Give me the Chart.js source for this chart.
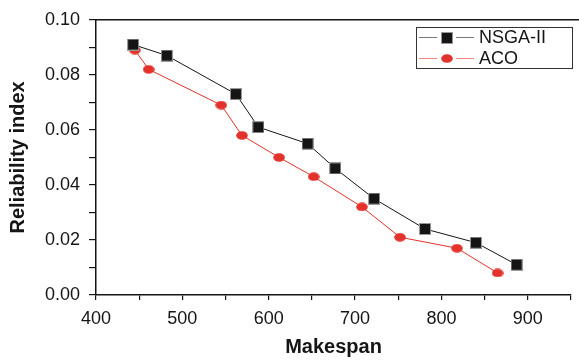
<!DOCTYPE html>
<html>
<head>
<meta charset="utf-8">
<script src="https://cdn.jsdelivr.net/npm/chart.js@4/dist/chart.umd.min.js"></script>
<style>
  html, body { margin: 0; padding: 0; background: #fff; }
  #chart { display: block; }
</style>
</head>
<body>
<canvas id="chart" width="579" height="360"></canvas>
<script>
const seriesNames = ['NSGA-II', 'ACO'];
const nsgaMakespan = [443, 482, 562, 588, 645, 677, 722, 781, 840, 887];
const nsgaReliability = [0.091, 0.087, 0.073, 0.061, 0.055, 0.046, 0.035, 0.024, 0.019, 0.011];
const acoMakespan = [445, 461, 545, 569, 612, 652, 708, 752, 818, 865];
const acoReliability = [0.089, 0.082, 0.069, 0.058, 0.050, 0.043, 0.032, 0.021, 0.017, 0.008];
const xTicks = [400, 500, 600, 700, 800, 900];
const yTicks = ['0.00', '0.02', '0.04', '0.06', '0.08', '0.10'];

const BLACK = '#151515';
const RED = '#e2322b';
const FONT = '"Liberation Sans", Arial, sans-serif';

function toPoints(xs, ys) {
  return xs.map(function(x, i) { return { x: x, y: ys[i] }; });
}

// marker images
function squareMarker() {
  const c = document.createElement('canvas');
  c.width = 12; c.height = 12;
  const g = c.getContext('2d');
  g.fillStyle = '#999';
  g.fillRect(0, 0, 12, 12);
  g.fillStyle = BLACK;
  g.fillRect(1, 1, 10, 10);
  return c;
}

function ellipseMarker() {
  const c = document.createElement('canvas');
  c.width = 12; c.height = 9;
  const g = c.getContext('2d');
  g.fillStyle = RED;
  g.beginPath();
  g.ellipse(6, 4.5, 5.8, 4.3, 0, 0, Math.PI * 2);
  g.fill();
  return c;
}

const sq = squareMarker();
const el = ellipseMarker();

// top frame line + legend box inside plot
const framePlugin = {
  id: 'frame',
  afterDraw(chart) {
    const ctx = chart.ctx;
    const a = chart.chartArea;
    ctx.save();
    ctx.strokeStyle = BLACK;
    ctx.lineWidth = 1.5;
    ctx.beginPath();
    ctx.moveTo(a.left, a.top);
    ctx.lineTo(chart.width, a.top);
    ctx.stroke();

    // legend
    const bx = 416.5, by = 27.5, bw = 156, bh = 41;
    ctx.fillStyle = '#fff';
    ctx.fillRect(bx, by, bw, bh);
    ctx.strokeStyle = '#333';
    ctx.lineWidth = 1;
    ctx.strokeRect(bx, by, bw, bh);

    const rows = [
      { label: seriesNames[0], color: '#777', img: sq, y: 37.5 },
      { label: seriesNames[1], color: '#f08a80', img: el, y: 58.5 }
    ];
    ctx.font = '18px ' + FONT;
    ctx.textBaseline = 'middle';
    rows.forEach(function(r) {
      ctx.strokeStyle = r.color;
      ctx.beginPath();
      ctx.moveTo(419, r.y); ctx.lineTo(437, r.y);
      ctx.moveTo(456, r.y); ctx.lineTo(474, r.y);
      ctx.stroke();
      ctx.drawImage(r.img, Math.round(446.5 - r.img.width / 2), Math.round(r.y - r.img.height / 2));
      ctx.fillStyle = BLACK;
      ctx.fillText(r.label, 479, r.y + 1);
    });
    ctx.restore();
  }
};

new Chart(document.getElementById('chart'), {
  type: 'line',
  data: {
    datasets: [
      {
        label: seriesNames[0],
        data: toPoints(nsgaMakespan, nsgaReliability),
        borderColor: BLACK,
        borderWidth: 1,
        pointStyle: sq,
        pointRadius: 6,
        tension: 0
      },
      {
        label: seriesNames[1],
        data: toPoints(acoMakespan, acoReliability),
        borderColor: RED,
        borderWidth: 1,
        pointStyle: el,
        pointRadius: 6,
        tension: 0
      }
    ]
  },
  options: {
    responsive: false,
    animation: false,
    devicePixelRatio: 1,
    layout: { padding: { top: 16, right: 0, left: 0, bottom: 0 } },
    plugins: {
      legend: { display: false },
      tooltip: { enabled: false }
    },
    scales: {
      x: {
        type: 'linear',
        min: 400,
        max: 950,
        afterFit: function(s) { s.height = 65; },
        grid: { drawOnChartArea: false, color: BLACK, tickLength: 5, lineWidth: 1.2 },
        border: { color: BLACK, width: 1.5 },
        ticks: {
          stepSize: 50,
          autoSkip: false,
          maxRotation: 0,
          padding: 8,
          color: BLACK,
          font: { family: FONT, size: 18 },
          callback: function(v) { return xTicks.indexOf(v) >= 0 ? String(v) : ''; }
        },
        title: {
          display: true,
          text: 'Makespan',
          color: BLACK,
          padding: { top: 0, bottom: 1 },
          font: { family: FONT, size: 20, weight: 'bold' }
        }
      },
      y: {
        min: 0,
        max: 0.1,
        afterFit: function(s) { s.width = 96; },
        grid: { drawOnChartArea: false, color: BLACK, tickLength: 7, lineWidth: 1.2 },
        border: { color: BLACK, width: 1.5 },
        ticks: {
          stepSize: 0.01,
          autoSkip: false,
          padding: 9,
          color: BLACK,
          font: { family: FONT, size: 18 },
          callback: function(v) {
            const s = v.toFixed(2);
            return yTicks.indexOf(s) >= 0 ? s : '';
          }
        },
        title: {
          display: true,
          text: 'Reliability index',
          color: BLACK,
          padding: { top: 6, bottom: 4 },
          font: { family: FONT, size: 20, weight: 'bold' }
        }
      }
    }
  },
  plugins: [framePlugin]
});
</script>
</body>
</html>
